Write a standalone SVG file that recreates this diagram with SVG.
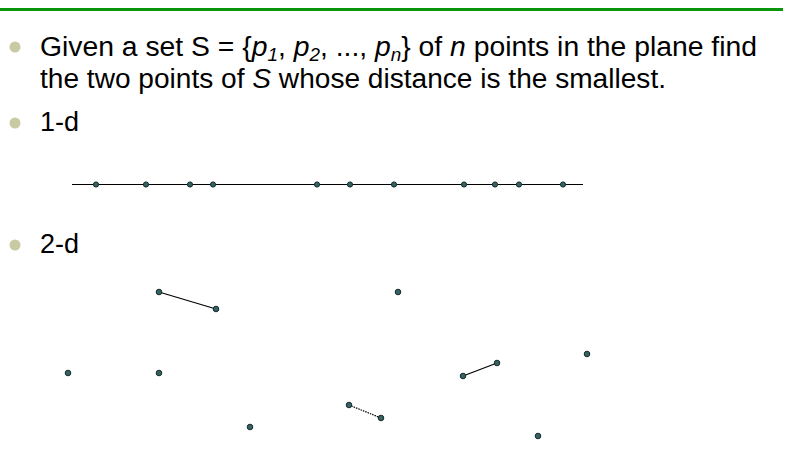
<svg xmlns="http://www.w3.org/2000/svg" width="791" height="454" viewBox="0 0 791 454">
<style>
.t{font-family:"Liberation Sans",Arial,sans-serif;font-size:27px;fill:#000}
.i{font-style:italic}
.s{font-size:18px;font-style:italic}
.b{fill:#c9c9a3}
.p{fill:#336363;stroke:#1a2a2a;stroke-width:1}
.e{stroke:#000;stroke-width:1.2;fill:none}
</style>
<rect width="791" height="454" fill="#fff"/>
<line x1="0" y1="9.5" x2="783" y2="9.5" stroke="#0a960a" stroke-width="3"/>
<g id="bullet1">
<circle class="b" cx="15" cy="47" r="5.5"/>
<text class="t" x="40" y="56" textLength="717" lengthAdjust="spacingAndGlyphs">Given a set S = {<tspan class="i">p</tspan><tspan class="s" dy="5">1</tspan><tspan dy="-5">, </tspan><tspan class="i">p</tspan><tspan class="s" dy="5">2</tspan><tspan dy="-5">, ..., </tspan><tspan class="i">p</tspan><tspan class="s" dy="5">n</tspan><tspan dy="-5">} of </tspan><tspan class="i">n</tspan> points in the plane find</text>
<text class="t" x="40" y="88" textLength="626" lengthAdjust="spacingAndGlyphs">the two points of <tspan class="i">S</tspan> whose distance is the smallest.</text>
</g>
<g id="bullet2">
<circle class="b" cx="15" cy="123" r="5.5"/>
<text class="t" x="40" y="131">1-d</text>
</g>
<g id="bullet3">
<circle class="b" cx="15" cy="245" r="5.5"/>
<text class="t" x="40" y="253">2-d</text>
</g>
<g id="connectors">
<line class="e" x1="72" y1="184.5" x2="583" y2="184.5"/>
<line class="e" x1="159" y1="292" x2="216" y2="309"/>
<line class="e" x1="463" y1="376" x2="497" y2="363"/>
<line class="e" x1="349" y1="405" x2="381" y2="418" stroke-dasharray="1.5 1"/>
</g>
<g id="points1d">
<circle class="p" cx="96" cy="184.5" r="2.6"/>
<circle class="p" cx="146" cy="184.5" r="2.6"/>
<circle class="p" cx="190" cy="184.5" r="2.6"/>
<circle class="p" cx="213" cy="184.5" r="2.6"/>
<circle class="p" cx="317" cy="184.5" r="2.6"/>
<circle class="p" cx="350" cy="184.5" r="2.6"/>
<circle class="p" cx="394" cy="184.5" r="2.6"/>
<circle class="p" cx="464" cy="184.5" r="2.6"/>
<circle class="p" cx="495" cy="184.5" r="2.6"/>
<circle class="p" cx="519" cy="184.5" r="2.6"/>
<circle class="p" cx="563" cy="184.5" r="2.6"/>
</g>
<g id="points2d">
<circle class="p" cx="159" cy="292" r="2.8"/>
<circle class="p" cx="216" cy="309" r="2.8"/>
<circle class="p" cx="398" cy="292" r="2.8"/>
<circle class="p" cx="68" cy="373" r="2.8"/>
<circle class="p" cx="159" cy="373" r="2.8"/>
<circle class="p" cx="463" cy="376" r="2.8"/>
<circle class="p" cx="497" cy="363" r="2.8"/>
<circle class="p" cx="587" cy="354" r="2.8"/>
<circle class="p" cx="349" cy="405" r="2.8"/>
<circle class="p" cx="381" cy="418" r="2.8"/>
<circle class="p" cx="250" cy="427" r="2.8"/>
<circle class="p" cx="538" cy="436" r="2.8"/>
</g>
</svg>
